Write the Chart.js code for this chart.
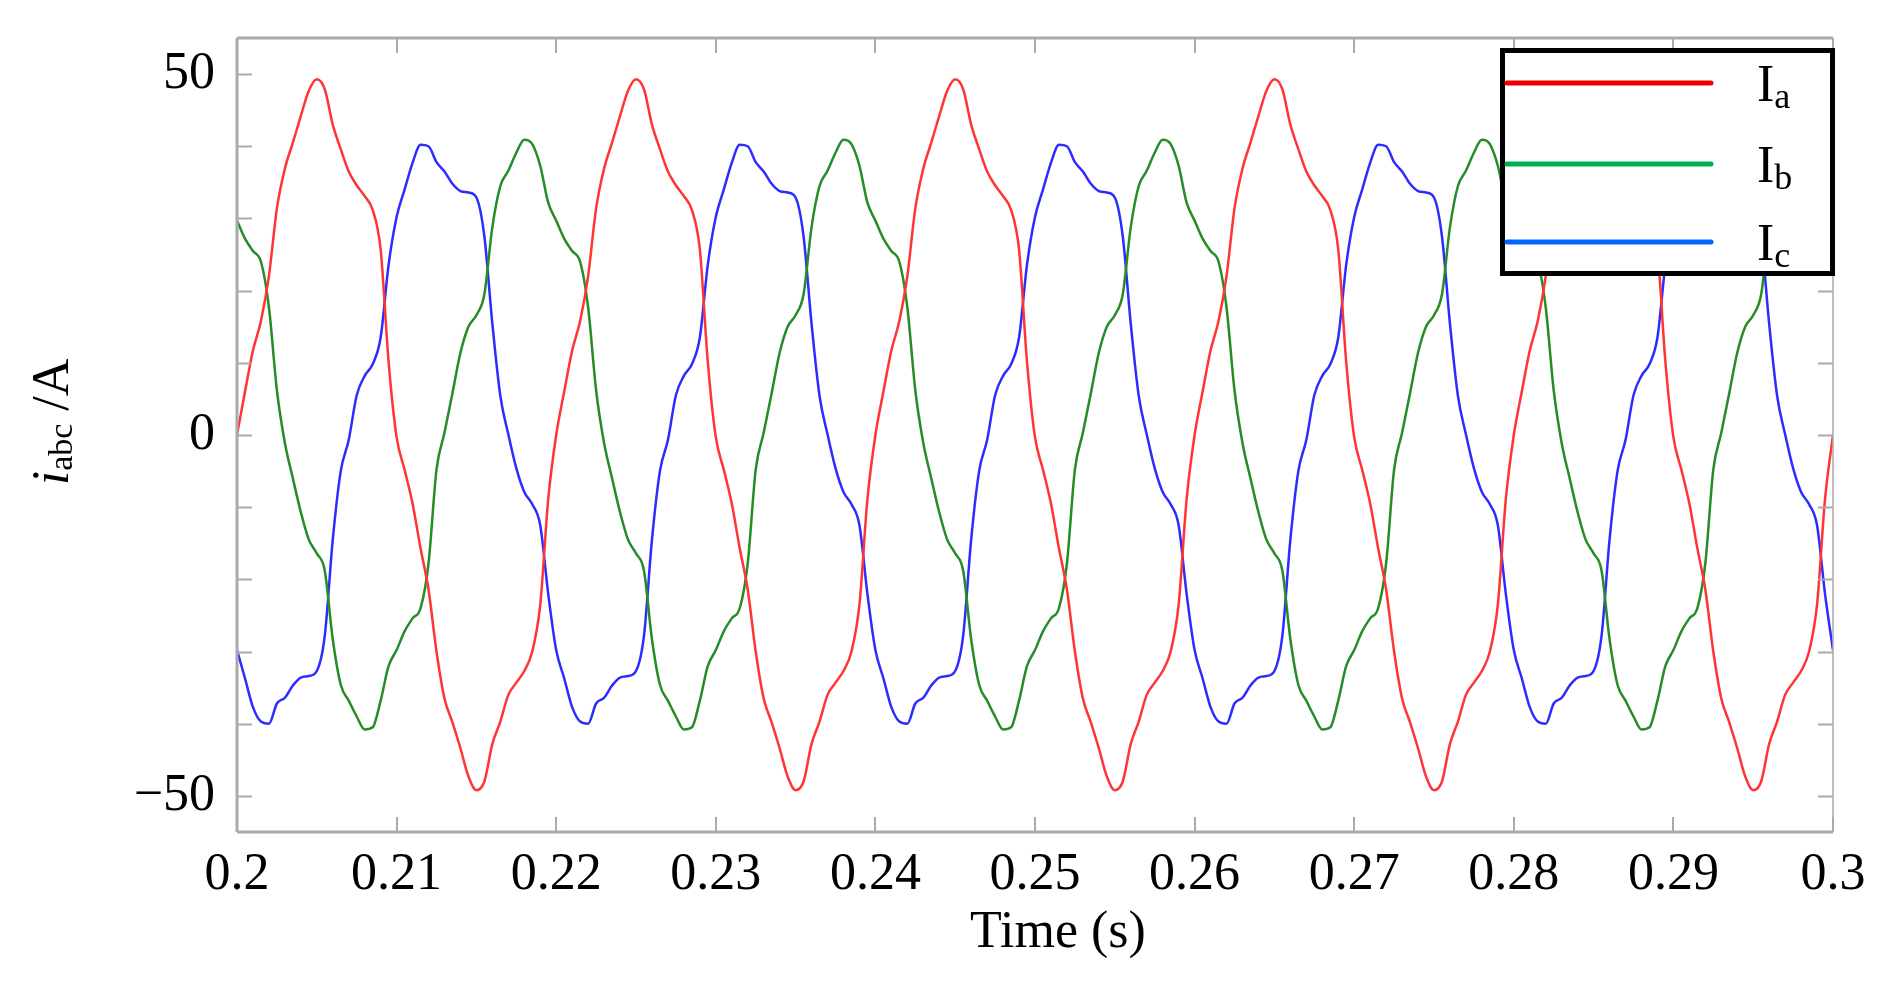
<!DOCTYPE html>
<html>
<head>
<meta charset="utf-8">
<script src="https://cdn.jsdelivr.net/npm/chart.js@4"></script>
<style>
  html, body { margin: 0; padding: 0; background: #fff; }
  canvas { display: block; }
</style>
</head>
<body>
<canvas id="chart" width="1902" height="982"></canvas>
<script>
// samples every 0.5 ms from t = 0.2 s to 0.3 s (201 points)
const timeStartS = 0.2;
const sampleStepS = 0.0005;

const ia = [
  0, 6, 11.7, 15.8, 22, 31.4, 36.9, 40.5, 44.2, 47.7, 49.3, 47.9, 43, 39.6, 36.5, 34.6, 33.1, 31.2, 25.7, 10.1,
  -0.3, -4.8, -9.5, -15.7, -21.4, -30, -36.5, -39.8, -43.4, -47.3, -49.2, -48, -42.8, -39.7, -36, -34.3, -32.7, -30, -23.5, -8.9,
  0, 6, 11.7, 15.8, 22, 31.4, 36.9, 40.5, 44.2, 47.7, 49.3, 47.9, 43, 39.6, 36.5, 34.6, 33.1, 31.2, 25.7, 10.1,
  -0.3, -4.8, -9.5, -15.7, -21.4, -30, -36.5, -39.8, -43.4, -47.3, -49.2, -48, -42.8, -39.7, -36, -34.3, -32.7, -30, -23.5, -8.9,
  0, 6, 11.7, 15.8, 22, 31.4, 36.9, 40.5, 44.2, 47.7, 49.3, 47.9, 43, 39.6, 36.5, 34.6, 33.1, 31.2, 25.7, 10.1,
  -0.3, -4.8, -9.5, -15.7, -21.4, -30, -36.5, -39.8, -43.4, -47.3, -49.2, -48, -42.8, -39.7, -36, -34.3, -32.7, -30, -23.5, -8.9,
  0, 6, 11.7, 15.8, 22, 31.4, 36.9, 40.5, 44.2, 47.7, 49.3, 47.9, 43, 39.6, 36.5, 34.6, 33.1, 31.2, 25.7, 10.1,
  -0.3, -4.8, -9.5, -15.7, -21.4, -30, -36.5, -39.8, -43.4, -47.3, -49.2, -48, -42.8, -39.7, -36, -34.3, -32.7, -30, -23.5, -8.9,
  0, 6, 11.7, 15.8, 22, 31.4, 36.9, 40.5, 44.2, 47.7, 49.3, 47.9, 43, 39.6, 36.5, 34.6, 33.1, 31.2, 25.7, 10.1,
  -0.3, -4.8, -9.5, -15.7, -21.4, -30, -36.5, -39.8, -43.4, -47.3, -49.2, -48, -42.8, -39.7, -36, -34.3, -32.7, -30, -23.5, -8.9,
  0
];

const ib = [
  29.7, 27.2, 25.5, 24, 17.7, 6.2, -1.1, -6, -10.7, -14.5, -16.4, -18.8, -28.3, -34.6, -36.8, -39, -40.8, -40.5, -36.8, -32,
  -29.8, -27.2, -25.4, -24, -17.8, -4.8, 0.3, 5.8, 11.4, 15, 16.6, 19.5, 28.8, 34.5, 36.6, 39.1, 40.9, 40.3, 37.3, 32.2,
  29.7, 27.2, 25.5, 24, 17.7, 6.2, -1.1, -6, -10.7, -14.5, -16.4, -18.8, -28.3, -34.6, -36.8, -39, -40.8, -40.5, -36.8, -32,
  -29.8, -27.2, -25.4, -24, -17.8, -4.8, 0.3, 5.8, 11.4, 15, 16.6, 19.5, 28.8, 34.5, 36.6, 39.1, 40.9, 40.3, 37.3, 32.2,
  29.7, 27.2, 25.5, 24, 17.7, 6.2, -1.1, -6, -10.7, -14.5, -16.4, -18.8, -28.3, -34.6, -36.8, -39, -40.8, -40.5, -36.8, -32,
  -29.8, -27.2, -25.4, -24, -17.8, -4.8, 0.3, 5.8, 11.4, 15, 16.6, 19.5, 28.8, 34.5, 36.6, 39.1, 40.9, 40.3, 37.3, 32.2,
  29.7, 27.2, 25.5, 24, 17.7, 6.2, -1.1, -6, -10.7, -14.5, -16.4, -18.8, -28.3, -34.6, -36.8, -39, -40.8, -40.5, -36.8, -32,
  -29.8, -27.2, -25.4, -24, -17.8, -4.8, 0.3, 5.8, 11.4, 15, 16.6, 19.5, 28.8, 34.5, 36.6, 39.1, 40.9, 40.3, 37.3, 32.2,
  29.7, 27.2, 25.5, 24, 17.7, 6.2, -1.1, -6, -10.7, -14.5, -16.4, -18.8, -28.3, -34.6, -36.8, -39, -40.8, -40.5, -36.8, -32,
  -29.8, -27.2, -25.4, -24, -17.8, -4.8, 0.3, 5.8, 11.4, 15, 16.6, 19.5, 28.8, 34.5, 36.6, 39.1, 40.9, 40.3, 37.3, 32.2,
  29.7
];

const ic = [
  -29.8, -33.7, -37.7, -39.7, -40, -37.2, -36.4, -34.7, -33.6, -33.4, -32.7, -27.8, -14.5, -5, -0.7, 5.5, 8.2, 9.8, 13.5, 23.6,
  30.2, 34, 37.7, 40.2, 40, 37.8, 36.5, 34.8, 33.8, 33.6, 32.9, 27.5, 15.4, 5.4, 0.1, -4.6, -7.9, -9.6, -12.5, -22,
  -29.8, -33.7, -37.7, -39.7, -40, -37.2, -36.4, -34.7, -33.6, -33.4, -32.7, -27.8, -14.5, -5, -0.7, 5.5, 8.2, 9.8, 13.5, 23.6,
  30.2, 34, 37.7, 40.2, 40, 37.8, 36.5, 34.8, 33.8, 33.6, 32.9, 27.5, 15.4, 5.4, 0.1, -4.6, -7.9, -9.6, -12.5, -22,
  -29.8, -33.7, -37.7, -39.7, -40, -37.2, -36.4, -34.7, -33.6, -33.4, -32.7, -27.8, -14.5, -5, -0.7, 5.5, 8.2, 9.8, 13.5, 23.6,
  30.2, 34, 37.7, 40.2, 40, 37.8, 36.5, 34.8, 33.8, 33.6, 32.9, 27.5, 15.4, 5.4, 0.1, -4.6, -7.9, -9.6, -12.5, -22,
  -29.8, -33.7, -37.7, -39.7, -40, -37.2, -36.4, -34.7, -33.6, -33.4, -32.7, -27.8, -14.5, -5, -0.7, 5.5, 8.2, 9.8, 13.5, 23.6,
  30.2, 34, 37.7, 40.2, 40, 37.8, 36.5, 34.8, 33.8, 33.6, 32.9, 27.5, 15.4, 5.4, 0.1, -4.6, -7.9, -9.6, -12.5, -22,
  -29.8, -33.7, -37.7, -39.7, -40, -37.2, -36.4, -34.7, -33.6, -33.4, -32.7, -27.8, -14.5, -5, -0.7, 5.5, 8.2, 9.8, 13.5, 23.6,
  30.2, 34, 37.7, 40.2, 40, 37.8, 36.5, 34.8, 33.8, 33.6, 32.9, 27.5, 15.4, 5.4, 0.1, -4.6, -7.9, -9.6, -12.5, -22,
  -29.8
];

const xTickValues = [0.2, 0.21, 0.22, 0.23, 0.24, 0.25, 0.26, 0.27, 0.28, 0.29, 0.3];
const yTickValues = [-50, -40, -30, -20, -10, 0, 10, 20, 30, 40, 50];
const yLabelledValues = [-50, 0, 50];

const seriesNames = ['a', 'b', 'c'];
const lineColors = ['rgb(255,52,52)', 'rgb(38,140,38)', 'rgb(44,44,255)'];
const legendColors = ['#ee0000', '#00b050', '#0066ff'];

const FONT = '"Liberation Serif", "Times New Roman", serif';
const FRAME = '#aaaaaa';

function toPoints(values) {
  return values.map((v, i) => ({ x: timeStartS + i * sampleStepS, y: v }));
}

// frame with inward ticks on all four sides
const framePlugin = {
  id: 'frame',
  afterDatasetsDraw(chart) {
    const { ctx, chartArea: a, scales } = chart;
    ctx.save();
    ctx.strokeStyle = FRAME;
    ctx.lineWidth = 2;
    const tl = 15;
    yTickValues.forEach(v => {
      const y = Math.round(scales.y.getPixelForValue(v)) + 0.5;
      ctx.beginPath();
      ctx.moveTo(a.left, y); ctx.lineTo(a.left + tl, y);
      ctx.moveTo(a.right, y); ctx.lineTo(a.right - tl, y);
      ctx.stroke();
    });
    xTickValues.forEach(v => {
      const x = Math.round(scales.x.getPixelForValue(v));
      ctx.beginPath();
      ctx.moveTo(x, a.bottom); ctx.lineTo(x, a.bottom - tl);
      ctx.moveTo(x, a.top); ctx.lineTo(x, a.top + tl);
      ctx.stroke();
    });
    ctx.lineWidth = 3;
    ctx.beginPath();
    ctx.moveTo(a.left, a.top); ctx.lineTo(a.left, a.bottom);
    ctx.moveTo(a.left, a.bottom); ctx.lineTo(a.right, a.bottom);
    ctx.moveTo(a.left, a.top); ctx.lineTo(a.right, a.top);
    ctx.stroke();
    ctx.lineWidth = 1.5;
    ctx.beginPath();
    ctx.moveTo(a.right, a.top); ctx.lineTo(a.right, a.bottom);
    ctx.stroke();
    ctx.restore();
  }
};

// axis titles and legend with subscripts
const textPlugin = {
  id: 'texts',
  afterDraw(chart) {
    const ctx = chart.ctx;
    ctx.save();
    ctx.fillStyle = '#000';
    ctx.textBaseline = 'alphabetic';

    // x title
    ctx.font = '52px ' + FONT;
    ctx.textAlign = 'center';
    ctx.fillText('Time (s)', 1058, 947);

    // y title: i_abc /A rotated
    ctx.textAlign = 'left';
    const parts = [
      { t: 'i', f: 'italic 52px ' + FONT, dy: 0 },
      { t: 'abc', f: '34px ' + FONT, dy: 4 },
      { t: ' /A', f: '52px ' + FONT, dy: 0 }
    ];
    let total = 0;
    parts.forEach(p => { ctx.font = p.f; p.w = ctx.measureText(p.t).width; total += p.w; });
    ctx.translate(68, 422);
    ctx.rotate(-Math.PI / 2);
    let cx = -total / 2;
    parts.forEach(p => { ctx.font = p.f; ctx.fillText(p.t, cx, p.dy); cx += p.w; });
    ctx.setTransform(1, 0, 0, 1, 0, 0);

    // legend box
    ctx.fillStyle = '#fff';
    ctx.fillRect(1502, 50, 331, 224);
    ctx.strokeStyle = '#000';
    ctx.lineWidth = 5;
    ctx.strokeRect(1502.5, 50.5, 330, 223);
    const rowY = [83, 164, 242];
    seriesNames.forEach((n, i) => {
      ctx.strokeStyle = legendColors[i];
      ctx.lineWidth = 5;
      ctx.lineCap = 'round';
      ctx.beginPath();
      ctx.moveTo(1507, rowY[i]); ctx.lineTo(1711, rowY[i]);
      ctx.stroke();
      ctx.fillStyle = '#000';
      ctx.font = '52px ' + FONT;
      ctx.fillText('I', 1757, rowY[i] + 18);
      const w = ctx.measureText('I').width;
      ctx.font = '36px ' + FONT;
      ctx.fillText(n, 1757 + w, rowY[i] + 25);
    });
    ctx.restore();
  }
};

new Chart(document.getElementById('chart'), {
  type: 'line',
  data: {
    datasets: [ia, ib, ic].map((vals, i) => ({
      label: 'I' + seriesNames[i],
      data: toPoints(vals),
      borderColor: lineColors[i],
      borderWidth: 2.5,
      pointRadius: 0,
      fill: false,
      cubicInterpolationMode: 'monotone'
    }))
  },
  options: {
    responsive: false,
    devicePixelRatio: 1,
    animation: false,
    layout: { padding: { top: 38, right: 69, left: 0, bottom: 0 } },
    plugins: { legend: { display: false }, tooltip: { enabled: false } },
    scales: {
      x: {
        type: 'linear',
        min: 0.2,
        max: 0.3,
        afterBuildTicks: s => { s.ticks = xTickValues.map(v => ({ value: v })); },
        afterFit: s => { s.height = 150; s.paddingLeft = 0; s.paddingRight = 0; },
        grid: { display: false, drawTicks: false },
        border: { display: false },
        ticks: {
          color: '#000',
          font: { family: FONT, size: 52 },
          padding: 12,
          maxRotation: 0,
          autoSkip: false,
          callback: v => String(+v.toFixed(2))
        }
      },
      y: {
        type: 'linear',
        min: -55,
        max: 55,
        afterBuildTicks: s => { s.ticks = yTickValues.map(v => ({ value: v })); },
        afterFit: s => { s.width = 237; s.paddingTop = 0; s.paddingBottom = 0; },
        grid: { display: false, drawTicks: false },
        border: { display: false },
        ticks: {
          color: '#000',
          font: { family: FONT, size: 52 },
          padding: 22,
          autoSkip: false,
          callback: v => yLabelledValues.includes(v) ? (v < 0 ? '\u2212' + Math.abs(v) : String(v)) : ''
        }
      }
    }
  },
  plugins: [framePlugin, textPlugin]
});
</script>
</body>
</html>
